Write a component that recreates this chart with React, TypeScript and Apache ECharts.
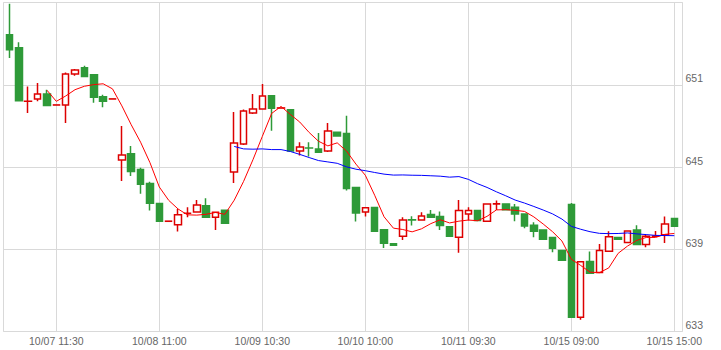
import React, { useEffect, useRef } from "react";
import * as echarts from "echarts";

const tickIndices = [5, 16, 27, 38, 49, 60, 71];
const tickLabels = ["10/07 11:30", "10/08 11:00", "10/09 10:30", "10/10 10:00", "10/11 09:30", "10/15 09:00", "10/15 15:00"];
const barCount = 72;
const categories = Array.from({ length: barCount }, (_, i) => {
  const k = tickIndices.indexOf(i);
  return k >= 0 ? tickLabels[k] : `bar ${i + 1}`;
});

const opens = [
  654.65, 653.7, 649.79, 649.96, 650.33, 649.52, 649.52, 651.78, 652.24, 651.73,
  650.13, 649.96, 645.51, 645.97, 644.81, 643.79, 642.33, 641.04, 640.78, 641.62,
  641.72, 642.18, 641.33, 641.84, 644.64, 646.68, 648.94, 649.23, 650.2, 649.3,
  649.18, 646.17, 646.39, 646.32, 646.17, 647.53, 647.45, 643.5, 641.72, 642.04,
  640.43, 639.41, 639.95, 641.15, 641.14, 641.53, 641.38, 640.65, 639.87, 641.58,
  641.82, 641.04, 642.31, 642.31, 642.06, 641.58, 640.75, 640.41, 639.85, 638.9,
  642.26, 634.04, 638.1, 637.3, 638.85, 639.85, 639.49, 640.41, 639.34, 639.95,
  640.05, 641.24,
];
const closes = [
  653.55, 649.84, 649.8, 650.33, 649.49, 649.53, 651.78, 652.07, 651.61, 650.08,
  649.79, 649.97, 645.88, 644.68, 643.74, 642.35, 641.04, 641.05, 641.51, 641.63,
  642.23, 641.33, 641.7, 640.89, 646.75, 649.09, 649.23, 650.18, 649.28, 649.31,
  646.17, 646.46, 646.38, 646.07, 647.63, 647.26, 643.44, 641.65, 642.02, 640.31,
  639.44, 639.3, 641.14, 641.14, 641.43, 641.33, 640.73, 639.95, 641.82, 641.82,
  641.09, 642.31, 642.32, 641.89, 641.58, 640.7, 640.31, 639.73, 639.07, 638.2,
  634.04, 638.08, 637.25, 638.9, 639.92, 639.73, 640.34, 639.34, 639.95, 639.96,
  640.85, 640.67,
];
const lows = [
  652.95, 649.84, 648.94, 649.79, 649.49, 649.52, 648.21, 651.66, 651.61, 649.69,
  649.35, 649.96, 643.98, 644.35, 643.04, 641.82, 641.04, 641.04, 640.29, 641.33,
  641.72, 641.33, 640.41, 640.89, 643.84, 646.6, 648.87, 649.23, 647.65, 649.3,
  646.17, 645.83, 645.76, 646.07, 646.1, 647.26, 643.28, 641.02, 641.38, 640.31,
  639.1, 639.3, 639.68, 640.73, 641.14, 641.33, 640.41, 639.95, 638.74, 641.09,
  641.09, 641.04, 641.87, 641.89, 641.04, 640.53, 639.87, 639.73, 638.78, 638.2,
  634.04, 633.85, 637.25, 637.3, 638.85, 639.73, 639.49, 639.34, 639.14, 639.95,
  639.46, 640.67,
];
const highs = [
  656.9, 654.1, 650.88, 651.13, 650.64, 649.53, 651.9, 652.15, 652.39, 651.73,
  650.27, 649.97, 647.99, 646.53, 644.95, 643.93, 642.33, 641.05, 641.94, 642.06,
  642.6, 642.72, 641.7, 641.84, 649.01, 649.2, 650.33, 651.05, 650.2, 649.31,
  649.18, 646.8, 646.8, 647.48, 648.21, 647.53, 648.74, 643.5, 642.02, 642.04,
  640.43, 639.41, 641.33, 641.4, 641.7, 641.87, 641.75, 640.65, 642.6, 642.06,
  641.82, 642.31, 642.55, 642.31, 642.31, 641.58, 640.97, 640.41, 639.85, 638.9,
  642.38, 638.08, 638.83, 639.39, 640.31, 639.85, 640.34, 640.75, 640.12, 640.34,
  641.38, 641.24,
];

const maShort = [
  "-", "-", "-", "-", 650.6, 649.79, 650.18, 650.64, 650.89, 651.01,
  651.07, 650.7, 649.46, 648.08, 646.81, 645.32, 643.54, 642.57, 641.94, 641.51,
  641.49, 641.55, 641.68, 641.55, 642.58, 643.95, 645.53, 647.23, 648.91, 649.42,
  648.83, 648.28, 647.52, 646.88, 646.54, 646.76, 646.16, 645.21, 644.4, 642.94,
  641.37, 640.54, 640.44, 640.27, 640.49, 640.87, 641.15, 640.92, 641.05, 641.13,
  641.08, 641.4, 641.87, 641.89, 641.84, 641.76, 641.36, 640.84, 640.28, 639.6,
  638.27, 637.82, 637.33, 637.29, 637.64, 638.7, 639.23, 639.65, 639.86, 639.86,
  640.09, 640.15,
];
const maLong = [
  "-", "-", "-", "-", "-", "-", "-", "-", "-", "-",
  "-", "-", "-", "-", "-", "-", "-", "-", "-", "-",
  "-", "-", "-", "-", 646.5, 646.32, 646.3, 646.32, 646.27, 646.27,
  646.13, 645.92, 645.69, 645.47, 645.37, 645.27, 645.01, 644.84, 644.73, 644.6,
  644.48, 644.41, 644.42, 644.4, 644.39, 644.36, 644.33, 644.26, 644.3, 644.1,
  643.78, 643.51, 643.19, 642.9, 642.59, 642.37, 642.12, 641.86, 641.58, 641.2,
  640.67, 640.46, 640.28, 640.16, 640.14, 640.15, 640.19, 640.12, 640.07, 640.01,
  640.0, 639.99,
];

const yMin = 633;
const yMax = 657;
const yStep = 6;

const UP_RED = "#dd0000";
const DOWN_GREEN = "#2e9a38";
const GRID_GRAY = "#d9d9d9";
const LABEL_GRAY = "#666666";
const FONT = "'Liberation Sans', Arial, sans-serif";

export default function App() {
  const ref = useRef<HTMLDivElement>(null);

  useEffect(() => {
    document.body.style.margin = "0";
    if (!ref.current) return;
    const chart = echarts.init(ref.current, undefined, { renderer: "svg" });
    const isTick = (i: number) => tickIndices.includes(i);
    const option: any = {
      animation: false,
      backgroundColor: "#ffffff",
      grid: [
        { left: 3.5, right: 38.5, top: 2.5, bottom: 18.5, show: true, borderColor: GRID_GRAY, borderWidth: 1, backgroundColor: "transparent" },
        { left: 9.5, right: 46.7, top: 2.5, bottom: 18.5 },
      ],
      xAxis: [
        { type: "value", gridIndex: 0, show: false, min: 0, max: 1 },
        {
          type: "category",
          gridIndex: 1,
          data: categories,
          boundaryGap: false,
          axisLine: { show: false },
          axisTick: { show: false, interval: isTick },
          axisLabel: {
            interval: isTick,
            color: LABEL_GRAY,
            fontSize: 10.5,
            fontFamily: FONT,
            margin: 4,
            hideOverlap: false,
          },
          splitLine: { show: true, interval: isTick, lineStyle: { color: GRID_GRAY, width: 1 } },
        },
      ],
      yAxis: [
        {
          type: "value",
          gridIndex: 0,
          position: "right",
          min: yMin,
          max: yMax,
          interval: yStep,
          axisLine: { show: false },
          axisTick: { show: false },
          splitLine: { show: true, lineStyle: { color: GRID_GRAY, width: 1 } },
          axisLabel: {
            showMaxLabel: false,
            margin: 3,
            verticalAlign: "bottom",
            lineHeight: 13,
            color: LABEL_GRAY,
            fontSize: 10.5,
            fontFamily: FONT,
          },
        },
        { type: "value", gridIndex: 1, min: yMin, max: yMax, interval: yStep, show: false },
      ],
      series: [
        {
          type: "candlestick",
          xAxisIndex: 1,
          yAxisIndex: 1,
          clip: false,
          barWidth: 7,
          data: opens.map((o, i) => [o, closes[i], lows[i], highs[i]]),
          itemStyle: {
            color: "#ffffff",
            color0: DOWN_GREEN,
            borderColor: UP_RED,
            borderColor0: DOWN_GREEN,
            borderWidth: 1.5,
          },
        },
        {
          type: "line",
          name: "MA5",
          xAxisIndex: 1,
          yAxisIndex: 1,
          data: maShort,
          symbol: "none",
          showSymbol: false,
          clip: false,
          lineStyle: { color: "#ff0000", width: 1 },
          itemStyle: { color: "#ff0000" },
        },
        {
          type: "line",
          name: "MA25",
          xAxisIndex: 1,
          yAxisIndex: 1,
          data: maLong,
          symbol: "none",
          showSymbol: false,
          clip: false,
          lineStyle: { color: "#0000ff", width: 1 },
          itemStyle: { color: "#0000ff" },
        },
      ],
    };
    chart.setOption(option);
    return () => chart.dispose();
  }, []);

  return (
    <div
      ref={ref}
      style={{ position: "fixed", left: 0, top: 0, width: 721, height: 350, background: "#ffffff" }}
    />
  );
}
